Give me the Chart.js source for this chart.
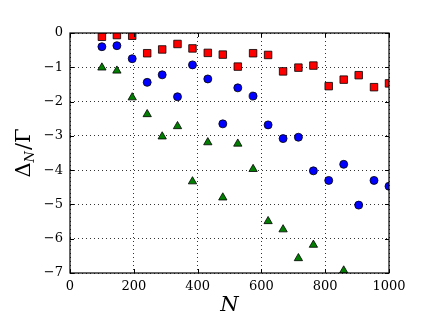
<!DOCTYPE html>
<html>
<head>
<meta charset="utf-8">
<script src="https://cdn.jsdelivr.net/npm/chart.js@4.4.0/dist/chart.umd.min.js"></script>
<style>
  html, body { margin: 0; padding: 0; background: #fff; }
</style>
</head>
<body>
<canvas id="chart" width="432" height="327"></canvas>
<script>
// N values (20 points from 100 to 1000)
const nValues = [100, 147, 195, 242, 289, 337, 384, 432, 479, 526, 574, 621, 668, 716, 763, 811, 858, 905, 953, 1000];
const redSquares = [-0.11, -0.06, -0.08, -0.59, -0.48, -0.32, -0.45, -0.58, -0.63, -0.98, -0.59, -0.64, -1.12, -1.01, -0.95, -1.55, -1.36, -1.23, -1.58, -1.47];
const blueCircles = [-0.40, -0.37, -0.75, -1.44, -1.22, -1.86, -0.93, -1.34, -2.65, -1.60, -1.84, -2.68, -3.08, -3.04, -4.02, -4.30, -3.83, -5.02, -4.30, -4.47];
// last few fall below the axis and are not visible
const greenTriangles = [-1.01, -1.10, -1.88, -2.37, -3.02, -2.72, -4.33, -3.19, -4.80, -3.23, -3.97, -5.49, -5.73, -6.57, -6.18, null, -6.93, null, null, null];

const xTicks = [0, 200, 400, 600, 800, 1000];
const yTicks = [0, -1, -2, -3, -4, -5, -6, -7];

const toPoints = ys => nValues.map((x, i) => ({ x, y: ys[i] }));
const fmtTick = v => v < 0 ? '\u2212' + Math.abs(v) : String(v);

// frame, inward ticks and axis titles (matplotlib look)
const framePlugin = {
  id: 'frame',
  afterDatasetsDraw(chart) {
    const { ctx, chartArea: a, scales } = chart;
    ctx.save();
    ctx.strokeStyle = '#000';
    ctx.lineWidth = 1;
    ctx.beginPath();
    xTicks.forEach(v => {
      const px = Math.round(scales.x.getPixelForValue(v)) + 0.5;
      ctx.moveTo(px, a.bottom); ctx.lineTo(px, a.bottom - 4);
      ctx.moveTo(px, a.top); ctx.lineTo(px, a.top + 4);
    });
    yTicks.forEach(v => {
      const py = Math.round(scales.y.getPixelForValue(v)) + 0.5;
      ctx.moveTo(a.left, py); ctx.lineTo(a.left + 4, py);
      ctx.moveTo(a.right, py); ctx.lineTo(a.right - 4, py);
    });
    ctx.stroke();
    ctx.lineWidth = 1.2;
    ctx.strokeRect(a.left, a.top, a.right - a.left, a.bottom - a.top);

    // x title
    ctx.fillStyle = '#000';
    ctx.font = 'italic 21px "DejaVu Serif"';
    ctx.textAlign = 'center';
    ctx.textBaseline = 'middle';
    ctx.fillText('N', (a.left + a.right) / 2, 306);

    // y title: Δ_N / Γ, rotated
    ctx.translate(22, (a.top + a.bottom) / 2);
    ctx.rotate(-Math.PI / 2);
    ctx.textAlign = 'left';
    ctx.textBaseline = 'alphabetic';
    const big = '21px "DejaVu Serif"';
    const small = 'italic 13px "DejaVu Serif"';
    ctx.font = big;
    const wD = ctx.measureText('\u0394').width;
    const wS = ctx.measureText('/\u0393').width;
    ctx.font = small;
    const wN = ctx.measureText('N').width;
    let x0 = -(wD + wN + 1 + wS) / 2;
    const base = 8;
    ctx.font = big;
    ctx.fillText('\u0394', x0, base);
    ctx.font = small;
    ctx.fillText('N', x0 + wD, base + 4);
    ctx.font = big;
    ctx.fillText('/\u0393', x0 + wD + wN + 1, base);
    ctx.restore();
  }
};

const gridStyle = {
  color: 'rgba(0,0,0,0.8)',
  lineWidth: 1,
  drawTicks: false
};
const borderStyle = { display: false, dash: [1, 3] };

new Chart(document.getElementById('chart').getContext('2d'), {
  type: 'scatter',
  data: {
    datasets: [
      {
        label: 'red',
        data: toPoints(redSquares),
        pointStyle: 'rect',
        pointRadius: 5.3,
        backgroundColor: '#ff0000',
        borderColor: '#000',
        borderWidth: 0.8
      },
      {
        label: 'blue',
        data: toPoints(blueCircles),
        pointStyle: 'circle',
        pointRadius: 4,
        backgroundColor: '#0000ff',
        borderColor: '#000',
        borderWidth: 0.8
      },
      {
        label: 'green',
        data: toPoints(greenTriangles),
        pointStyle: 'triangle',
        pointRadius: 4.8,
        backgroundColor: '#007f00',
        borderColor: '#000',
        borderWidth: 0.8,
        clip: 0
      }
    ]
  },
  options: {
    responsive: false,
    animation: false,
    events: [],
    layout: { padding: { left: 0, top: 33, right: 43, bottom: 27 } },
    plugins: { legend: { display: false }, tooltip: { enabled: false } },
    scales: {
      x: {
        type: 'linear',
        min: 0, max: 1000,
        afterBuildTicks: s => { s.ticks = xTicks.map(v => ({ value: v })); },
        afterFit: s => { s.height = 27; },
        grid: gridStyle,
        border: borderStyle,
        ticks: {
          padding: 6,
          color: '#000',
          font: { family: 'DejaVu Serif', size: 13 },
          callback: fmtTick,
          maxRotation: 0
        }
      },
      y: {
        type: 'linear',
        min: -7, max: 0,
        afterBuildTicks: s => { s.ticks = yTicks.map(v => ({ value: v })); },
        afterFit: s => { s.width = 70; },
        grid: gridStyle,
        border: borderStyle,
        ticks: {
          padding: 7,
          color: '#000',
          font: { family: 'DejaVu Serif', size: 13 },
          callback: fmtTick
        }
      }
    }
  },
  plugins: [framePlugin]
});
</script>
</body>
</html>
